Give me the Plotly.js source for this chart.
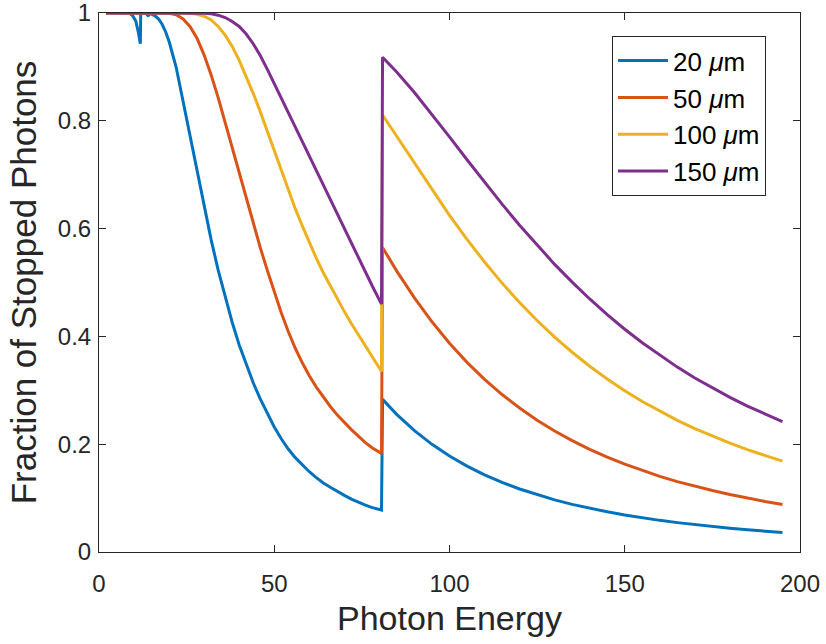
<!DOCTYPE html>
<html>
<head>
<meta charset="utf-8">
<script src="https://cdn.plot.ly/plotly-3.0.1.min.js"></script>
<style>html,body{margin:0;padding:0;background:#fff;}#chart{width:826px;height:644px;}</style>
</head>
<body>
<div id="chart"></div>
<script>
// Photon energy sample points
const energy = [2, 8.5, 9.5, 10.5, 11.2, 11.8, 11.9, 13.5, 14.1, 14.3,
  15, 16, 17, 18, 19, 20, 22, 24, 26, 28, 30, 32, 34, 36, 38, 40, 42, 44, 46, 48,
  50, 52, 54, 56, 58, 60, 62, 64, 66, 68, 70, 72, 74, 76, 78, 80.6, 80.9, 82, 85,
  90, 95, 100, 105, 110, 115, 120, 125, 130, 135, 140, 145, 150, 155, 160, 165,
  170, 175, 180, 185, 190, 195];

const series20 = [1, 1, 0.996, 0.985, 0.965, 0.943, 0.9995, 0.999, 0.994, 0.999,
  0.998, 0.9948, 0.9888, 0.9791, 0.9653, 0.9471, 0.8997, 0.8347, 0.770, 0.705, 0.639, 0.579, 0.523, 0.472, 0.426, 0.384, 0.347, 0.314, 0.284, 0.257,
  0.232, 0.210, 0.191, 0.175, 0.161, 0.149, 0.138, 0.128, 0.120, 0.112, 0.105, 0.0983, 0.0924, 0.087, 0.0824, 0.0778, 0.2832, 0.2753, 0.2549,
  0.2252, 0.1997, 0.178, 0.1593, 0.1432, 0.1291, 0.1169, 0.1061, 0.0967, 0.0884, 0.081, 0.0745, 0.0686, 0.0634, 0.0587, 0.0545,
  0.0507, 0.0472, 0.0441, 0.0412, 0.0386, 0.0362];

const series50 = [1, 1, 1, 1, 1, 1, 1, 1, 1, 1,
  1, 1, 1, 0.9999, 0.9998, 0.9994, 0.9968, 0.9889, 0.9747, 0.9526, 0.922, 0.885, 0.843, 0.797, 0.750, 0.702, 0.655, 0.609, 0.565, 0.523,
  0.482, 0.444, 0.409, 0.378, 0.351, 0.327, 0.306, 0.287, 0.270, 0.254, 0.240, 0.227, 0.215, 0.203, 0.193, 0.183, 0.565, 0.5529, 0.5207,
  0.4715, 0.4271, 0.3874, 0.3519, 0.3204, 0.2921, 0.2671, 0.2446, 0.2245, 0.2067, 0.1905, 0.1759, 0.1629, 0.1511, 0.1404, 0.1306,
  0.1219, 0.114, 0.1066, 0.0999, 0.0938, 0.0882];

const series100 = [1, 1, 1, 1, 1, 1, 1, 1, 1, 1,
  1, 1, 1, 1, 1, 1, 1, 0.9999, 0.9994, 0.9978, 0.994, 0.987, 0.975, 0.959, 0.938, 0.912, 0.883, 0.851, 0.817, 0.781,
  0.744, 0.707, 0.671, 0.637, 0.605, 0.574, 0.545, 0.518, 0.493, 0.469, 0.446, 0.424, 0.403, 0.382, 0.361, 0.335, 0.8108, 0.8001, 0.7703,
  0.7207, 0.6717, 0.6247, 0.58, 0.5381, 0.4989, 0.4629, 0.4294, 0.3986, 0.3706, 0.3446, 0.3209, 0.2992, 0.2793, 0.261, 0.2442,
  0.2289, 0.2149, 0.2019, 0.1898, 0.1788, 0.1685];

const series150 = [1, 1, 1, 1, 1, 1, 1, 1, 1, 1,
  1, 1, 1, 1, 1, 1, 1, 1, 1, 1, 0.9995, 0.9985, 0.996, 0.9916, 0.9844, 0.975, 0.961, 0.943, 0.921, 0.896,
  0.869, 0.842, 0.815, 0.788, 0.761, 0.734, 0.707, 0.680, 0.653, 0.626, 0.599, 0.572, 0.545, 0.519, 0.493, 0.460, 0.9177, 0.9106, 0.8899,
  0.8524, 0.8119, 0.7701, 0.7278, 0.6861, 0.6453, 0.6063, 0.5689, 0.5336, 0.5007, 0.4694, 0.4404, 0.4133, 0.3882, 0.3648, 0.343,
  0.3229, 0.3044, 0.287, 0.2708, 0.2558, 0.2418];

const seriesNames = ['20 <i>μ</i>m', '50 <i>μ</i>m', '100 <i>μ</i>m', '150 <i>μ</i>m'];
const seriesColors = ['#0072BD', '#D95319', '#EDB120', '#7E2F8E'];
const seriesValues = [series20, series50, series100, series150];

const xTicks = [0, 50, 100, 150, 200];
const yTicks = [0, 0.2, 0.4, 0.6, 0.8, 1];
const yTickText = ['0', '0.2', '0.4', '0.6', '0.8', '1'];

const FONT = 'Arial, "Liberation Sans", Helvetica, sans-serif';
const INK = '#262626';

const traces = seriesValues.map((vals, i) => ({
  type: 'scatter', mode: 'lines',
  x: energy, y: vals,
  name: seriesNames[i],
  legendgroup: 'g' + i,
  line: {color: seriesColors[i], width: 3}
}));

const axisCommon = {
  showline: true, linecolor: INK, linewidth: 1, mirror: 'ticks',
  ticks: 'inside', ticklen: 7, tickcolor: INK, tickwidth: 1,
  showgrid: false, zeroline: false, ticklabeloverflow: 'allow',
  tickfont: {family: FONT, size: 24, color: INK}
};

const layout = {
  width: 826, height: 644,
  paper_bgcolor: '#fff', plot_bgcolor: '#fff',
  margin: {l: 99, r: 26, t: 13, b: 92},
  showlegend: true,
  legend: {
    x: 0.7318, y: 0.957, xanchor: 'left', yanchor: 'top',
    bgcolor: '#fff', bordercolor: INK, borderwidth: 1,
    font: {family: FONT, size: 26, color: '#000'},
    traceorder: 'grouped', tracegroupgap: 0, itemwidth: 50
  },
  xaxis: Object.assign({}, axisCommon, {
    range: [0, 200], tickmode: 'array', tickvals: xTicks, ticktext: xTicks.map(String),
    ticklabelstandoff: 10,
    title: {text: 'Photon Energy', font: {family: FONT, size: 34, color: INK}, standoff: 10}
  }),
  yaxis: Object.assign({}, axisCommon, {
    range: [0, 1], tickmode: 'array', tickvals: yTicks, ticktext: yTickText,
    ticklabelstandoff: 2,
    title: {text: 'Fraction of Stopped Photons', font: {family: FONT, size: 35, color: INK}, standoff: 10}
  })
};

Plotly.newPlot('chart', traces, layout, {displayModeBar: false, staticPlot: true});
</script>
</body>
</html>
